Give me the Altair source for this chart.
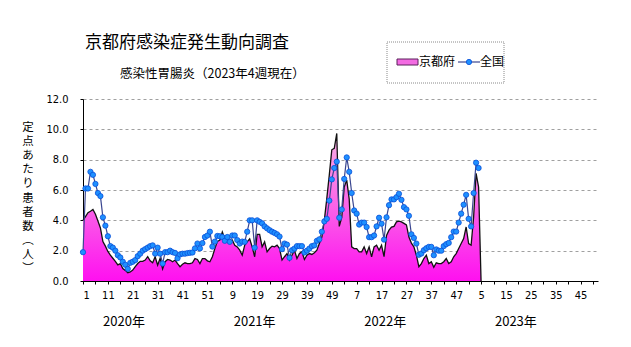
import json
import altair as alt
import pandas as pd

# ---------------- data ----------------
weeks_per_year = 52
years = ["2020年", "2021年", "2022年", "2023年"]
tick_labels = ["1", "11", "21", "31", "41", "51", "9", "19", "29", "39", "49",
               "7", "17", "27", "37", "47", "5", "15", "25", "35", "45"]
y_ticks = [0, 2, 4, 6, 8, 10, 12]

# 京都府 (per sentinel site), weekly from 2020 week 1
kyoto = [
    4.0, 4.25, 4.5, 4.6, 4.72, 4.4, 3.95, 3.5, 2.6, 2.3,
    1.95, 1.7, 1.5, 1.3, 1.06, 1.15, 0.82, 0.7, 0.55, 0.6,
    0.72, 0.95, 1.15, 1.3, 1.3, 1.38, 1.6, 1.33, 1.2, 1.6,
    1.05, 1.5, 0.8, 1.27, 1.42, 1.38, 1.27, 1.38, 1.15, 0.94,
    1.1, 1.2, 1.15, 1.15, 1.2, 1.48, 1.42, 1.15, 1.48, 1.48,
    1.33, 1.27, 1.6, 2.14, 2.6, 2.7, 3.23, 2.78, 2.9, 2.58,
    2.7, 2.36, 2.25, 2.03, 1.7, 2.36, 2.58, 2.78, 2.25, 1.6,
    3.08, 3.08, 2.25, 2.58, 1.92, 2.14, 2.3, 2.25, 2.36, 2.14,
    1.38, 1.6, 1.81, 1.38, 1.7, 2.03, 1.48, 1.81, 1.92, 1.42,
    1.7, 1.81, 1.75, 1.86, 2.03, 2.47, 2.9, 4.0, 5.45, 7.0,
    8.65, 8.75, 9.73, 3.6, 4.2, 6.2, 6.65, 5.4, 2.25, 2.14,
    2.14, 1.92, 1.92, 2.25, 1.81, 2.25, 1.6, 2.25, 2.36, 2.03,
    2.36, 1.6, 3.0, 3.35, 3.56, 3.6, 3.9, 3.95, 3.9, 3.8,
    3.7, 2.9, 2.5, 2.25, 1.7, 0.94, 1.15, 1.48, 1.7, 1.15,
    1.27, 0.9, 1.2, 1.15, 1.15, 1.27, 1.48, 1.15, 1.27, 1.6,
    1.81, 2.14, 2.47, 2.8, 3.56, 2.47, 2.36, 4.2, 7.1, 6.2,
]

# 全国
national = [
    1.9, 6.1, 6.1, 7.2, 7.0, 6.4, 5.8, 5.6, 4.2, 3.65,
    2.95, 2.3, 2.2, 2.0, 1.7, 1.55, 1.27, 1.07, 0.8, 1.2,
    1.27, 1.38, 1.64, 1.8, 2.0, 2.1, 2.2, 2.3, 2.35, 1.8,
    2.2, 1.8, 1.15, 1.9, 1.9, 2.0, 1.9, 1.85, 1.5, 1.75,
    1.8, 1.8, 1.84, 1.86, 1.88, 2.15, 2.47, 2.15, 2.5, 2.9,
    3.0, 3.25, 2.27, 2.6, 2.97, 2.95, 2.9, 2.65, 2.9, 2.58,
    3.0, 3.0, 2.7, 2.47, 2.6, 2.58, 3.25, 4.0, 4.0, 2.2,
    4.0, 3.9, 3.8, 3.6, 3.47, 3.35, 3.25, 3.17, 3.08, 2.93,
    2.1, 2.47, 2.4, 1.53, 2.03, 2.14, 2.3, 2.3, 2.3, 1.88,
    2.0, 2.14, 2.3, 2.35, 2.65, 2.75, 3.25, 3.93, 4.1, 5.3,
    6.7, 7.45, 7.87, 4.17, 4.72, 6.73, 8.15, 7.2, 5.8, 4.65,
    4.44, 3.72, 3.85, 3.85, 3.56, 2.89, 2.89, 3.0, 3.6, 4.17,
    3.78, 2.73, 4.2, 5.0, 5.38, 5.38, 5.53, 5.75, 5.35, 4.87,
    4.72, 4.3, 3.08, 2.84, 2.47, 1.73, 1.81, 2.03, 2.16, 2.25,
    2.25, 1.7, 2.08, 2.0, 2.0, 2.3, 2.43, 2.51, 2.89, 3.26,
    3.26, 3.85, 4.44, 5.03, 5.68, 4.1, 3.6, 5.8, 7.8, 7.45,
]

# ---------------- tables ----------------
n_total = weeks_per_year * len(years)
idx = list(range(len(national)))
df = pd.DataFrame({"i": idx, "kyoto": kyoto, "national": national})
# blank future weeks count as zero for the area (drop to axis)
df_area = pd.DataFrame({"i": idx + [len(kyoto)], "kyoto": kyoto + [0.0]})
df_years = pd.DataFrame({"year": years,
                         "pos": [k * 52.5 + 16.5 for k in range(len(years))]})

NUM_FONT = "Liberation Sans Narrow, DejaVu Sans Condensed, Arial Narrow, sans-serif"
JP_FONT = "Noto Sans CJK JP"

x_scale = alt.Scale(domain=[0, n_total - 1], nice=False, zero=False)
y_scale = alt.Scale(domain=[0, 12], nice=False)

label_expr = ("datum.value % 10 == 0 ? " + json.dumps(tick_labels)
              + "[datum.value / 10] : ''")

x_axis = alt.Axis(values=list(range(0, n_total, 5)), labelExpr=label_expr,
                  grid=False, domainColor="black", domainWidth=1,
                  tickColor="black", tickSize=3, labelPadding=5,
                  labelFont=NUM_FONT, labelFontSize=11, labelColor="black",
                  labelAngle=0, labelOverlap=False, title=None)
y_axis = alt.Axis(values=y_ticks, format=".1f", grid=True, gridColor="#a0a0a0",
                  gridDash=[3, 3], gridWidth=1, domainColor="black", domainWidth=1,
                  tickColor="black", tickSize=3, labelPadding=12,
                  labelFont=NUM_FONT, labelFontSize=11, labelColor="black",
                  title=None)

X = alt.X("i:Q", scale=x_scale, axis=x_axis, title=None)

gradient = alt.Gradient(
    gradient="linear",
    stops=[alt.GradientStop(color="#FF10F0", offset=0),
           alt.GradientStop(color="#FA5AE8", offset=0.45),
           alt.GradientStop(color="#F8B0E4", offset=1)],
    x1=0, x2=0, y1=1, y2=0,
)

area = alt.Chart(df_area).mark_area(fill=gradient, interpolate="linear").encode(
    x=X,
    y=alt.Y("kyoto:Q", scale=y_scale, axis=y_axis, title=None),
)
kyoto_line = alt.Chart(df_area).mark_line(color="#111111", strokeWidth=1.3).encode(
    x=X,
    y=alt.Y("kyoto:Q", scale=y_scale, axis=y_axis, title=None),
)
nat_line = alt.Chart(df).mark_line(color="#3A4690", strokeWidth=1.2).encode(
    x=X,
    y=alt.Y("national:Q", scale=y_scale, axis=y_axis, title=None),
)
nat_pts = alt.Chart(df).mark_point(filled=True, shape="circle", size=28,
                                   fill="#1E90FF", stroke="#0A4FD8",
                                   strokeWidth=0.8, opacity=1).encode(
    x=X,
    y=alt.Y("national:Q", scale=y_scale, axis=y_axis, title=None),
)

year_text = alt.Chart(df_years).mark_text(font=JP_FONT, fontSize=13, color="black",
                                          align="center", baseline="middle").encode(
    x=alt.X("pos:Q", scale=x_scale, axis=x_axis, title=None),
    y=alt.value(223),
    text="year:N",
)

dummy = pd.DataFrame({"a": [0]})
title = alt.Chart(dummy).mark_text(text="京都府感染症発生動向調査", font=JP_FONT,
                                   fontSize=17, align="left", baseline="middle",
                                   color="black").encode(x=alt.value(2), y=alt.value(-56))
subtitle = alt.Chart(dummy).mark_text(text="感染性胃腸炎（2023年4週現在）", font=JP_FONT,
                                      fontSize=12.5, align="left", baseline="middle",
                                      color="black").encode(x=alt.value(37), y=alt.value(-25))
ytitle = alt.Chart(dummy).mark_text(text=list("定点あたり患者数︵人︶"), font=JP_FONT,
                                    fontSize=11.5, lineHeight=14.1, align="center",
                                    baseline="top", color="black").encode(
    x=alt.value(-55), y=alt.value(23))

legend_box = alt.Chart(dummy).mark_rect(fill="white", stroke="#8a8a8a", strokeWidth=1,
                                        strokeDash=[1, 1]).encode(
    x=alt.value(304), x2=alt.value(421), y=alt.value(-57), y2=alt.value(-16))
legend_swatch = alt.Chart(dummy).mark_rect(fill="#F36BE2", stroke="#5a205a",
                                           strokeWidth=1).encode(
    x=alt.value(314), x2=alt.value(335), y=alt.value(-40), y2=alt.value(-34))
legend_t1 = alt.Chart(dummy).mark_text(text="京都府", font=JP_FONT, fontSize=12,
                                       align="left", baseline="middle",
                                       color="black").encode(x=alt.value(336), y=alt.value(-37))
legend_line = alt.Chart(dummy).mark_rule(color="#3A4690", strokeWidth=1.2).encode(
    x=alt.value(375), x2=alt.value(397), y=alt.value(-37))
legend_pt = alt.Chart(dummy).mark_point(filled=True, shape="circle", size=28,
                                        fill="#1E90FF", stroke="#0A4FD8",
                                        strokeWidth=0.8, opacity=1).encode(
    x=alt.value(386), y=alt.value(-37))
legend_t2 = alt.Chart(dummy).mark_text(text="全国", font=JP_FONT, fontSize=12,
                                       align="left", baseline="middle",
                                       color="black").encode(x=alt.value(397), y=alt.value(-37))

chart = alt.layer(
    area, kyoto_line, nat_line, nat_pts, year_text,
    title, subtitle, ytitle,
    legend_box, legend_swatch, legend_t1, legend_line, legend_pt, legend_t2,
).properties(
    width=515, height=182,
    autosize=alt.AutoSizeParams(type="none"),
    padding={"left": 83, "top": 99, "right": 33, "bottom": 66},
    background="white",
).configure_view(stroke=None)

chart.save("out.html", embed_options={"renderer": "svg", "actions": False})
